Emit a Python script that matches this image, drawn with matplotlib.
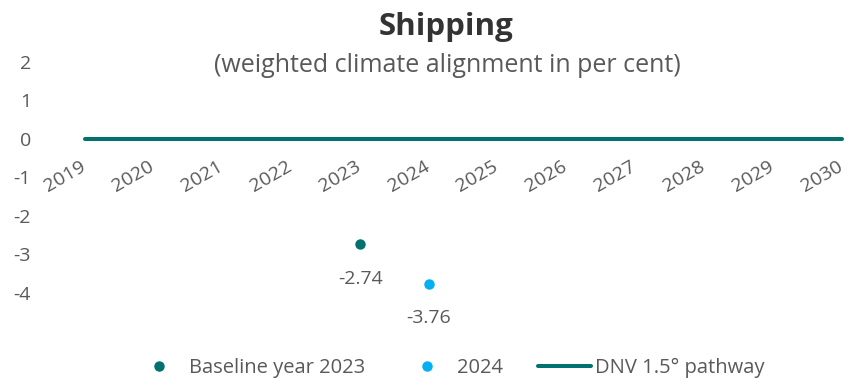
import numpy as np
import matplotlib.pyplot as plt
import matplotlib.transforms as mtransforms

plt.rcParams['font.family'] = ['Open Sans', 'DejaVu Sans']
plt.rcParams['axes.unicode_minus'] = False

# datos
years = np.arange(2019, 2031)
pathway = np.zeros(len(years))
base_year = [2023]
base_val = [-2.74]
cur_year = [2024]
cur_val = [-3.76]
yticks = [2, 1, 0, -1, -2, -3, -4]

teal = '#00716E'
blue = '#00B0F0'
gray = '#595959'

fig = plt.figure(figsize=(8.46, 3.79), dpi=100)
ax = fig.add_axes([0.0761, 0.166, 0.9232, 0.7009])
ax.spines['bottom'].set_position(('data', 0))
for s in ax.spines.values():
    s.set_visible(False)

ax.plot(years, pathway, color=teal, lw=2.9, solid_capstyle='round',
        label='DNV 1.5° pathway', zorder=2)
ax.plot(base_year, base_val, 'o', color=teal, ms=6.5, label='Baseline year 2023', zorder=3)
ax.plot(cur_year, cur_val, 'o', color=blue, ms=6.5, label='2024', zorder=3)

for x, v in zip(base_year + cur_year, base_val + cur_val):
    ax.annotate(f'{v:.2f}', (x, v), xytext=(0, -25), textcoords='offset points',
                ha='center', va='center', fontsize=14, color=gray)

ax.set_xlim(2018.7, 2030.05)
ax.set_ylim(-4.6, 2.3)
ax.set_yticks(yticks)
ax.set_xticks(years)
ax.set_xticklabels([str(y) for y in years], rotation=30, ha='right',
                   rotation_mode='anchor', fontsize=14, color=gray)
ax.tick_params(axis='x', length=0, pad=13)
ax.tick_params(axis='y', length=0, pad=24, labelsize=14, labelcolor=gray)

# correr un poco las etiquetas del eje x a la izquierda
shift = mtransforms.ScaledTranslation(-4 / 72, 0, fig.dpi_scale_trans)
for lbl in ax.get_xticklabels():
    lbl.set_transform(lbl.get_transform() + shift)

fig.text(0.527, 0.93, 'Shipping', ha='center', va='center', fontsize=22.5,
         fontweight='bold', color='#333333')
fig.text(0.529, 0.826, '(weighted climate alignment in per cent)', ha='center',
         va='center', fontsize=18, color=gray)

h, l = ax.get_legend_handles_labels()
order = [1, 2, 0]
fig.legend([h[i] for i in order], [l[i] for i in order], loc='center',
           bbox_to_anchor=(0.53, 0.03), ncol=3, frameon=False, fontsize=14.5,
           handlelength=2.6, handletextpad=0.2, columnspacing=1.75,
           labelcolor=gray)

fig.savefig('out.png', dpi=100)
